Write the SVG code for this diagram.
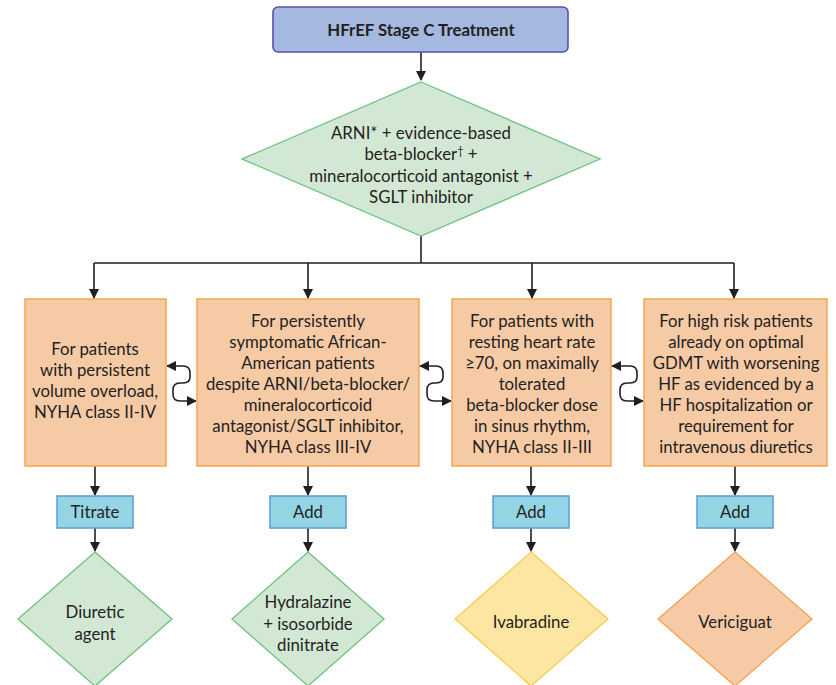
<svg xmlns="http://www.w3.org/2000/svg" width="836" height="685" viewBox="0 0 836 685">
<style>
text{font-family:Lato,"Open Sans","Liberation Sans",sans-serif;font-size:16.8px;fill:#231f20;text-anchor:middle}
.title{font-weight:bold}
.cond{fill:#f7caa6;stroke:#f5a64c;stroke-width:1.5}
.act{fill:#93d5e4;stroke:#5e9bd8;stroke-width:1.5}
.green{fill:#d3e8d4;stroke:#6cc27e;stroke-width:1.3}
.yellow{fill:#fde6a1;stroke:#f7cd4f;stroke-width:1.3}
.orange{fill:#f7caa6;stroke:#f2a052;stroke-width:1.3}
.ln{fill:none;stroke:#231f20;stroke-width:1.6}
</style>
<defs>
<marker id="ah2" viewBox="0 0 10 10" refX="9" refY="5" markerWidth="10" markerHeight="10" markerUnits="userSpaceOnUse" orient="auto-start-reverse">
<path d="M0,0 L10,5 L0,10 z" fill="#231f20"/>
</marker>
</defs>
<rect width="836" height="685" fill="#ffffff"/>
<g id="connectors">
<path class="ln" d="M421,52 V80" marker-end="url(#ah2)"/>
<path class="ln" d="M421,236 V263"/>
<path class="ln" d="M94,263 H734"/>
<path class="ln" d="M94,263 V298" marker-end="url(#ah2)"/>
<path class="ln" d="M308,263 V298" marker-end="url(#ah2)"/>
<path class="ln" d="M532,263 V298" marker-end="url(#ah2)"/>
<path class="ln" d="M734,263 V298" marker-end="url(#ah2)"/>
<path class="ln" d="M95,466 V495" marker-end="url(#ah2)"/>
<path class="ln" d="M308,466 V495" marker-end="url(#ah2)"/>
<path class="ln" d="M531,466 V495" marker-end="url(#ah2)"/>
<path class="ln" d="M735,466 V495" marker-end="url(#ah2)"/>
<path class="ln" d="M95,528 V551" marker-end="url(#ah2)"/>
<path class="ln" d="M308,528 V551" marker-end="url(#ah2)"/>
<path class="ln" d="M531,528 V551" marker-end="url(#ah2)"/>
<path class="ln" d="M735,528 V551" marker-end="url(#ah2)"/>
<path class="ln" d="M167,366 H183 Q190,366 190,373 V377 Q190,383 183,383 H180 Q173,383 173,390 V394 Q173,401 180,401 H196" marker-start="url(#ah2)" marker-end="url(#ah2)"/>
<path class="ln" d="M420,366 H436 Q443,366 443,373 V377 Q443,383 436,383 H434 Q427,383 427,390 V394 Q427,401 434,401 H451" marker-start="url(#ah2)" marker-end="url(#ah2)"/>
<path class="ln" d="M612,366 H630 Q637,366 637,373 V377 Q637,383 630,383 H627 Q620,383 620,390 V394 Q620,401 627,401 H643" marker-start="url(#ah2)" marker-end="url(#ah2)"/>
</g>
<g id="n-top">
<rect x="273" y="7" width="295" height="45" rx="5" fill="#a5b9e0" stroke="#5b4fa6" stroke-width="1.6"/>
<text x="421" y="36" class="title">HFrEF Stage C Treatment</text>
</g>
<g id="n-base">
<polygon class="green" points="421,82 600,159 421,236 242,159"/>
<text x="421" y="139">ARNI* + evidence-based</text>
<text x="421" y="160">beta-blocker<tspan dy="-5" font-size="11">†</tspan><tspan dy="5"> +</tspan></text>
<text x="421" y="182">mineralocorticoid antagonist +</text>
<text x="421" y="203">SGLT inhibitor</text>
</g>
<g id="n-c1">
<rect class="cond" x="25" y="299" width="141" height="167"/>
<text x="95" y="355">For patients</text>
<text x="95" y="376">with persistent</text>
<text x="95" y="397">volume overload,</text>
<text x="95" y="418">NYHA class II-IV</text>
</g>
<g id="n-c2">
<rect class="cond" x="197" y="299" width="222" height="167"/>
<text x="308" y="327">For persistently</text>
<text x="308" y="348">symptomatic African-</text>
<text x="308" y="369">American patients</text>
<text x="308" y="390">despite ARNI/beta-blocker/</text>
<text x="308" y="411">mineralocorticoid</text>
<text x="308" y="432">antagonist/SGLT inhibitor,</text>
<text x="308" y="453">NYHA class III-IV</text>
</g>
<g id="n-c3">
<rect class="cond" x="452" y="299" width="159" height="167"/>
<text x="532" y="327">For patients with</text>
<text x="532" y="348">resting heart rate</text>
<text x="532" y="369">≥70, on maximally</text>
<text x="532" y="390">tolerated</text>
<text x="532" y="411">beta-blocker dose</text>
<text x="532" y="432">in sinus rhythm,</text>
<text x="532" y="453">NYHA class II-III</text>
</g>
<g id="n-c4">
<rect class="cond" x="644" y="299" width="183" height="167"/>
<text x="736" y="327">For high risk patients</text>
<text x="736" y="348">already on optimal</text>
<text x="736" y="369">GDMT with worsening</text>
<text x="736" y="390">HF as evidenced by a</text>
<text x="736" y="411">HF hospitalization or</text>
<text x="736" y="432">requirement for</text>
<text x="736" y="453">intravenous diuretics</text>
</g>
<g id="n-a1">
<rect class="act" x="57" y="496" width="76" height="32"/>
<text x="95" y="518">Titrate</text>
</g>
<g id="n-a2">
<rect class="act" x="270" y="496" width="76" height="32"/>
<text x="308" y="518">Add</text>
</g>
<g id="n-a3">
<rect class="act" x="493" y="496" width="76" height="32"/>
<text x="531" y="518">Add</text>
</g>
<g id="n-a4">
<rect class="act" x="697" y="496" width="76" height="32"/>
<text x="735" y="518">Add</text>
</g>
<g id="n-d1">
<polygon class="green" points="95,552 172,619 95,686 18,619"/>
<text x="95" y="618">Diuretic</text>
<text x="95" y="640">agent</text>
</g>
<g id="n-d2">
<polygon class="green" points="308,552 384,619 308,686 232,619"/>
<text x="308" y="608">Hydralazine</text>
<text x="308" y="630">+ isosorbide</text>
<text x="308" y="651">dinitrate</text>
</g>
<g id="n-d3">
<polygon class="yellow" points="531,552 608,619 531,686 455,619"/>
<text x="531" y="628">Ivabradine</text>
</g>
<g id="n-d4">
<polygon class="orange" points="735,552 812,619 735,686 658,619"/>
<text x="735" y="628">Vericiguat</text>
</g>
</svg>
